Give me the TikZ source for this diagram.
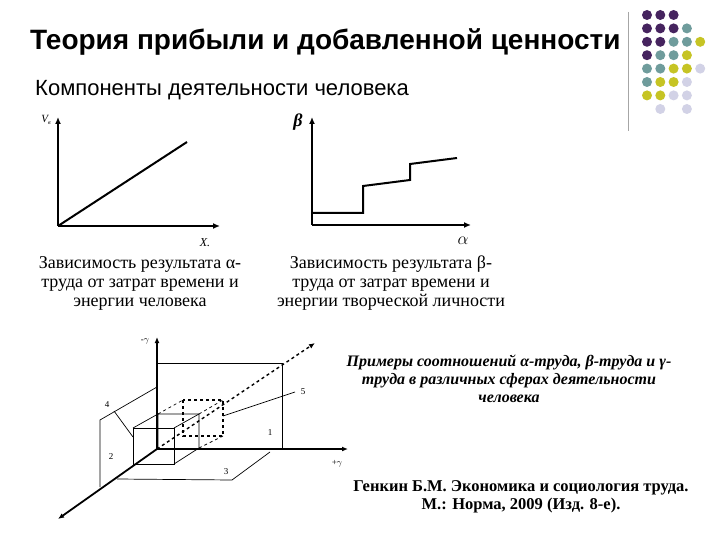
\documentclass[tikz,border=0pt]{standalone}
\usepackage{fontspec}
\setmainfont{Liberation Serif}
\newfontfamily\ssf{Liberation Sans}
\usetikzlibrary{arrows.meta}
\definecolor{cP}{HTML}{46245F}\definecolor{cT}{HTML}{6F9C9C}
\definecolor{cY}{HTML}{C6C424}\definecolor{cL}{HTML}{D2D2E6}
\begin{document}
\begin{tikzpicture}[x=1pt,y=-1pt,
  ax/.style={line width=2.2pt,-{Latex[length=7pt,width=6pt]}},
  thin/.style={line width=0.7pt},
  dot/.style={circle,inner sep=0pt,minimum size=10pt},
  captxt/.style={font=\fontsize{18}{19}\selectfont,align=center},
  lbl/.style={font=\fontsize{9}{10}\selectfont,inner sep=0pt}]
\useasboundingbox[fill=white] (0,0) rectangle (720,540);
% dots
\foreach \r/\row in {0/{P,P,P},1/{P,P,P,T},2/{P,P,T,T,Y},3/{P,T,T,Y},4/{T,T,Y,Y,L},5/{T,Y,Y,L},6/{Y,Y,L,L}}{
  \foreach \c [count=\i from 0] in \row {\node[dot,fill=c\c] (d\r\i) at (647+13.3*\i,15+13.4*\r) {};}}
\node[dot,fill=cL] (d71) at (660.3,109) {};
\node[dot,fill=cL] (d73) at (686.9,109) {};
\draw[gray!70,line width=0.8pt] (628,12) -- (628,131);
% titles
\node[font=\ssf\bfseries\fontsize{28}{30}\selectfont,anchor=west,inner sep=0pt] (title) at (30,42) {Теория прибыли и добавленной ценности};
\node[font=\ssf\fontsize{22}{24}\selectfont,anchor=west,inner sep=0pt] (sub) at (35,90) {Компоненты деятельности человека};
% left graph
\coordinate (o1) at (58,226);
\draw[ax] (o1) -- (58,117);
\draw[ax] (o1) -- (220,226);
\draw[line width=2pt] (o1) -- (187,142);
\node[lbl,font=\itshape\fontsize{11}{11}\selectfont] (vb) at (46,120) {V\raisebox{-2pt}{\fontsize{6}{6}\selectfont в}};
\node[lbl,font=\itshape\fontsize{12}{12}\selectfont] (xx) at (205,243) {X.};
\node[captxt] (c1) at (140,283) {Зависимость результата α-\\труда от затрат времени и\\энергии человека};
% right graph
\coordinate (o2) at (312,225);
\draw[ax] (o2) -- (312,117);
\draw[ax] (o2) -- (471,225);
\draw[line width=2pt] (312,213) -- (363,213) -- (363,186) -- (410,180) -- (410,164) -- (457,158);
\node[lbl,font=\bfseries\itshape\fontsize{18}{18}\selectfont] (bt) at (298,122) {β};
\node[lbl,font=\fontsize{18}{18}\selectfont] (al) at (463,241) {$\alpha$};
\node[captxt] (c2) at (391,283) {Зависимость результата β-\\труда от затрат времени и\\энергии творческой личности};
% 3D
\coordinate (O) at (157,449);
\draw[line width=1.8pt,-{Latex[length=6pt,width=5pt]}] (O) -- (157,337);
\draw[line width=1.8pt,-{Latex[length=6pt,width=5pt]}] (O) -- (348,449);
\draw[line width=1.8pt,-{Latex[length=6pt,width=5pt]}] (O) -- (58,519);
\draw[line width=1.4pt,dashed,-{Latex[length=6pt,width=5pt]}] (O) -- (315,343);
\draw[thin] (158,363) -- (282,363) -- (282,449);
\draw[thin] (157,387) -- (100,420) -- (100,487);
\draw[thin] (117,479) -- (232,480) -- (270,452);
\draw[thin] (133,428) rectangle (174,464);
\draw[thin] (158,449) -- (158,414) -- (199,414) -- (199,448) -- (174,464);
\draw[thin] (133,428) -- (158,414) (174,428) -- (199,414);
\draw[line width=1.2pt,dashed] (183,400) rectangle (223,436);
\draw[thin,dashed] (158,414) -- (183,400) (199,414) -- (223,400) (199,448) -- (223,436);
\draw[thin] (223,416) -- (295,392);
\draw[thin] (114,411) -- (133,437);
\node[lbl] (n1) at (270,433) {1};
\node[lbl] (n2) at (111,457) {2};
\node[lbl] (n3) at (226,472) {3};
\node[lbl] (n4) at (107,405) {4};
\node[lbl] (n5) at (303,392) {5};
\node[lbl] (ng) at (145,341) {-$\gamma$};
\node[lbl] (pg) at (337,464) {+$\gamma$};
% right texts
\node[font=\bfseries\itshape\fontsize{16}{18}\selectfont,align=center] (ex) at (509,379) {Примеры соотношений α-труда, β-труда и γ-\\труда в различных сферах деятельности\\человека};
\node[font=\bfseries\fontsize{16.5}{18}\selectfont,align=center] (ref) at (521,497) {Генкин Б.М. Экономика и социология труда.\\М.: Норма, 2009 (Изд. 8-е).};
\end{tikzpicture}
\end{document}
